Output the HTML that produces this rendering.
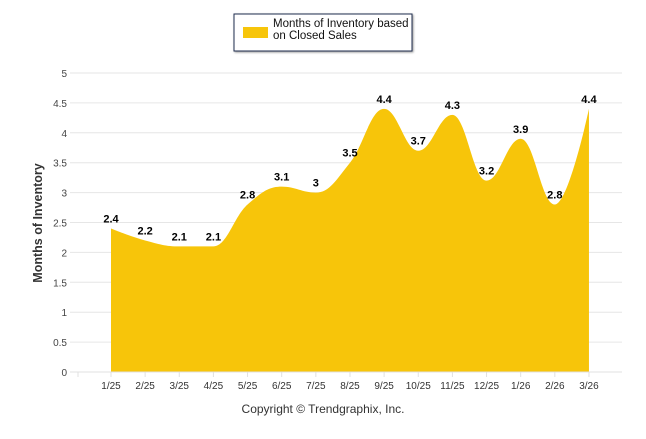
<!DOCTYPE html>
<html><head><meta charset="utf-8"><style>
body{margin:0;background:#fff;font-family:"Liberation Sans",sans-serif}
svg text{font-family:"Liberation Sans",sans-serif}
</style></head><body>
<svg width="646" height="434" id="c">
<rect x="234" y="14" width="178" height="37" fill="#fff" stroke="#1f2d4f" stroke-width="1" style="filter:drop-shadow(1px 1px 1px #999)"/>
<rect x="243" y="27" width="25" height="11" fill="#f7c50a"/>
<text x="273" y="27" font-size="11.5" fill="#111"><tspan x="273">Months of Inventory based</tspan><tspan x="273" dy="12">on Closed Sales</tspan></text>
<text transform="translate(42,223) rotate(-90)" text-anchor="middle" font-size="12.5" font-weight="bold" fill="#333">Months of Inventory</text>
<text x="323" y="413" text-anchor="middle" font-size="12" fill="#333">Copyright © Trendgraphix, Inc.</text>
<g id="g"></g>
</svg>
<script>
const categories=["1/25","2/25","3/25","4/25","5/25","6/25","7/25","8/25","9/25","10/25","11/25","12/25","1/26","2/26","3/26"];
const values=[2.4,2.2,2.1,2.1,2.8,3.1,3,3.5,4.4,3.7,4.3,3.2,3.9,2.8,4.4];
const yTicks=[0,0.5,1,1.5,2,2.5,3,3.5,4,4.5,5];
const NS="http://www.w3.org/2000/svg";
const g=document.getElementById('g');
const x=i=>111+i*34.14, y=v=>372-v*59.8;
function mk(t,a){const e=document.createElementNS(NS,t);for(const k in a)e.setAttribute(k,a[k]);g.appendChild(e);return e;}
yTicks.forEach(t=>{
 const l=mk('line',{x1:70,x2:622,y1:y(t),y2:y(t),stroke:'#e6e6e6'});
 
 
 const tx=mk('text',{x:67,y:y(t)+4,'text-anchor':'end','font-size':10,fill:'#444'});tx.textContent=t;
 
 
});
// path
const pts=values.map((v,i)=>[x(i),y(v)]);
let d=`M${pts[0][0]},${y(0)} L${pts[0][0]},${pts[0][1]}`;
const s=1.5;
function ctrl(i){ // highcharts-like
 const p=pts[i],a=pts[i-1],b=pts[i+1];
 if(!a||!b)return [p,p];
 let lx=(s*p[0]+a[0])/(s+1),ly=(s*p[1]+a[1])/(s+1),rx=(s*p[0]+b[0])/(s+1),ry=(s*p[1]+b[1])/(s+1);
 const cor=((ry-ly)*(rx-p[0]))/(rx-lx)+p[1]-ry;ly+=cor;ry+=cor;
 if(ly>Math.max(a[1],p[1])||ly<Math.min(a[1],p[1])){ly=Math.max(Math.min(ly,Math.max(a[1],p[1])),Math.min(a[1],p[1]));ry=2*p[1]-ly;}
 if(ry>Math.max(b[1],p[1])||ry<Math.min(b[1],p[1])){ry=Math.max(Math.min(ry,Math.max(b[1],p[1])),Math.min(b[1],p[1]));ly=2*p[1]-ry;}
 return [[lx,ly],[rx,ry]];
}
const cs=pts.map((p,i)=>ctrl(i));
for(let i=1;i<pts.length;i++){const c1=cs[i-1][1],c2=cs[i][0];d+=` C${c1[0]},${c1[1]} ${c2[0]},${c2[1]} ${pts[i][0]},${pts[i][1]}`;}
d+=` L${pts[pts.length-1][0]},${y(0)} Z`;
const ar=mk('path',{d:d,fill:'#f7c50a'});


mk('line',{x1:70,x2:622,y1:y(0),y2:y(0),stroke:'#e0e0e0'});
categories.forEach((c,i)=>{
 mk('line',{x1:x(i),x2:x(i),y1:372,y2:377,stroke:'#e0e0e0'});
 const t=mk('text',{x:x(i),y:389,'text-anchor':'middle','font-size':10,fill:'#333'});t.textContent=c;
 
 
 const lb=mk('text',{x:x(i),y:y(values[i])-6,'text-anchor':'middle','font-size':11,'font-weight':'bold',fill:'#000'});lb.textContent=values[i];
 
 
});
mk('line',{x1:78,x2:78,y1:372,y2:377,stroke:'#e0e0e0'});
</script>
</body></html>
